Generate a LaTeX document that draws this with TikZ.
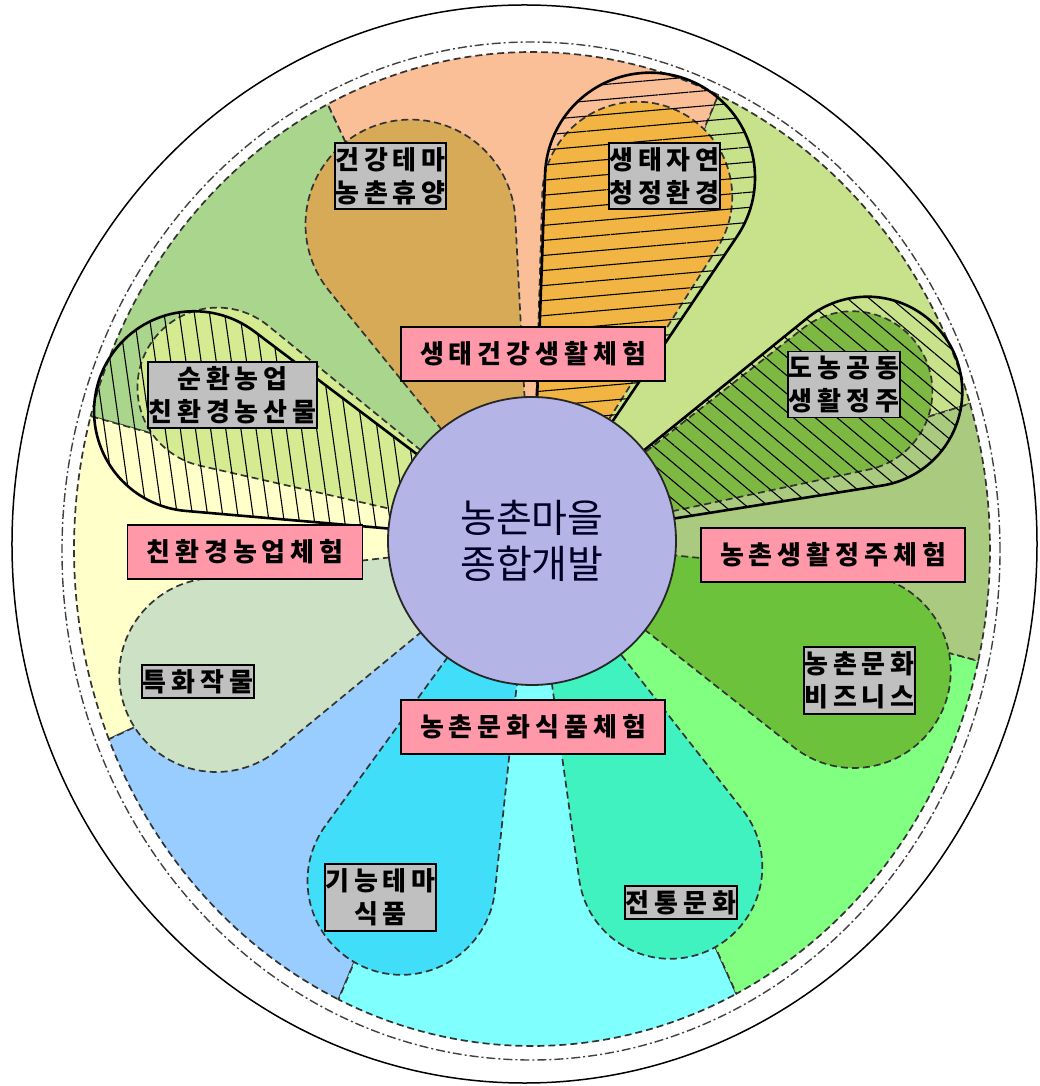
\documentclass[tikz,border=0pt]{standalone}
\usepackage{fontspec}
\setmainfont{Noto Sans CJK KR}
\newfontfamily\krbox{Noto Sans CJK KR}[LetterSpace=19]
\usetikzlibrary{patterns.meta}

\definecolor{salmonbg}{HTML}{FBBF97}
\definecolor{leafbg}{HTML}{A9D58C}
\definecolor{creambg}{HTML}{FFFFC9}
\definecolor{skybg}{HTML}{99CCFF}
\definecolor{aquabg}{HTML}{80FFFF}
\definecolor{mintbg}{HTML}{80FF80}
\definecolor{olivebg}{HTML}{AACA7F}
\definecolor{limebg}{HTML}{C7E28A}
\definecolor{tanpetal}{HTML}{D6AA57}
\definecolor{orangepetal}{HTML}{F2B443}
\definecolor{grasspetal}{HTML}{7DB843}
\definecolor{bizpetal}{HTML}{6CC23B}
\definecolor{tealpetal}{HTML}{40F2C0}
\definecolor{cyanpetal}{HTML}{40DEF8}
\definecolor{sagepetal}{HTML}{CDE2C4}
\definecolor{yellowpetal}{HTML}{D5EB92}
\definecolor{hubfill}{HTML}{B4B4E6}
\definecolor{pinkfill}{HTML}{FF99AA}
\definecolor{grayfill}{HTML}{C0C0C0}

\begin{document}
\begin{tikzpicture}[x=1pt, y=1pt,
  sector/.style={draw=black!80, line width=1.7pt, dash pattern=on 7pt off 4pt},
  petal/.style={draw=black!80, line width=1.7pt, dash pattern=on 7pt off 4pt},
  hatched/.style={draw=black, line width=2.6pt, pattern color=black},
  hub/.style={circle, draw=black!85, line width=1.8pt, fill=hubfill, minimum size=288pt, inner sep=0pt, align=center, font=\fontsize{39}{46}\selectfont, text=black!85!blue},
  theme/.style={draw=black, line width=1.6pt, fill=pinkfill, minimum height=54pt, inner xsep=19pt, font=\krbox\bfseries\fontsize{26}{31}\selectfont},
  topic/.style={draw=black, line width=1.6pt, fill=grayfill, inner xsep=0.5pt, inner ysep=4.5pt, align=center, font=\krbox\bfseries\fontsize{26}{33}\selectfont}]
\useasboundingbox (-532,-545) rectangle (507,541);
% rings
\draw [line width=1.5pt] (-7.5,-3) ellipse [x radius=512.5, y radius=539];
\draw [line width=1.4pt, black!75, dash pattern=on 9pt off 3pt on 2pt off 3pt] (-1,-10) ellipse [x radius=469, y radius=509];
% background sectors
\filldraw [sector, fill=limebg] (0,0) -- ([shift={(0,-8)}]17:458 and 497) arc [start angle=17, end angle=66, x radius=458, y radius=497] -- cycle;
\filldraw [sector, fill=salmonbg] (0,0) -- ([shift={(0,-8)}]66:458 and 497) arc [start angle=66, end angle=116.5, x radius=458, y radius=497] -- cycle;
\filldraw [sector, fill=leafbg] (0,0) -- ([shift={(0,-8)}]116.5:458 and 497) arc [start angle=116.5, end angle=164.5, x radius=458, y radius=497] -- cycle;
\filldraw [sector, fill=creambg] (0,0) -- ([shift={(0,-8)}]164.5:458 and 497) arc [start angle=164.5, end angle=202.5, x radius=458, y radius=497] -- cycle;
\filldraw [sector, fill=skybg] (0,0) -- ([shift={(0,-8)}]202.5:458 and 497) arc [start angle=202.5, end angle=245, x radius=458, y radius=497] -- cycle;
\filldraw [sector, fill=aquabg] (0,0) -- ([shift={(0,-8)}]245:458 and 497) arc [start angle=245, end angle=296.5, x radius=458, y radius=497] -- cycle;
\filldraw [sector, fill=mintbg] (0,0) -- ([shift={(0,-8)}]296.5:458 and 497) arc [start angle=296.5, end angle=347, x radius=458, y radius=497] -- cycle;
\filldraw [sector, fill=olivebg] (0,0) -- ([shift={(0,-8)}]347:458 and 497) arc [start angle=347, end angle=377, x radius=458, y radius=497] -- cycle;
% petals
\filldraw [petal, fill=tanpetal] (0,0) -- (92.96:322.3) arc [start angle=2.96, end angle=219.04, radius=105] -- cycle;
\filldraw [petal, fill=orangepetal] (0,0) -- (57.70:347.2) arc [start angle=-32.30, end angle=178.30, radius=95] -- cycle;
\filldraw [petal, fill=grasspetal] (0,0) -- (11.98:345.9) arc [start angle=-77.02, end angle=127.02, radius=80] -- cycle;
\filldraw [petal, fill=bizpetal] (0,0) -- (-38.23:333.2) arc [start angle=-128.23, end angle=84.23, radius=97] -- cycle;
\filldraw [petal, fill=tealpetal] (0,0) -- (-82.06:341.8) arc [start angle=-172.06, end angle=38.06, radius=92] -- cycle;
\filldraw [petal, fill=cyanpetal] (0,0) -- (-125.97:351.7) arc [start angle=-215.97, end angle=-6.03, radius=94] -- cycle;
\filldraw [petal, fill=sagepetal] (0,0) -- (186.57:329.0) arc [start angle=96.57, end angle=309.43, radius=97] -- cycle;
\filldraw [petal, fill=yellowpetal] (0,0) -- (140.79:340.7) arc [start angle=50.79, end angle=257.21, radius=80] -- cycle;
% hatched petals
\draw [hatched, pattern={Lines[angle=5, distance=15pt, line width=1.1pt]}] (0,0) -- (56.05:367.3) arc [start angle=-33.95, end angle=177.95, radius=105] -- cycle;
\draw [hatched, pattern={Lines[angle=-40, distance=14pt, line width=1.1pt]}] (0,0) -- (9.0:354.5) arc [start angle=-81.0, end angle=129.0, radius=95] -- cycle;
\draw [hatched, pattern={Lines[angle=-82, distance=15pt, line width=1.1pt]}] (0,0) -- (142.96:347.9) arc [start angle=52.96, end angle=265.04, radius=100] -- cycle;
% centre
\node [hub](hub) at (0,0) {농촌마을\\종합개발};
% labels
\node [theme](ecoexp) at (1,187) {생태건강생활체험};
\node [theme](farmexp) at (-287,-11) {친환경농업체험};
\node [theme](lifeexp) at (301,-14) {농촌생활정주체험};
\node [theme](foodexp) at (1,-186) {농촌문화식품체험};
\node [topic](health) at (-141.5,365) {건강테마\\농촌휴양};
\node [topic](nature) at (132.5,365) {생태자연\\청정환경};
\node [topic](loopfarm) at (-299.5,146) {순환농업\\친환경농산물};
\node [topic](urban) at (312,156.5) {도농공동\\생활정주};
\node [topic](crop) at (-334,-140.5) {특화작물};
\node [topic](biz) at (327.5,-139.5) {농촌문화\\비즈니스};
\node [topic](food) at (-151.5,-356.5) {기능테마\\식품};
\node [topic](tradition) at (149,-361.5) {전통문화};
\end{tikzpicture}
\end{document}
